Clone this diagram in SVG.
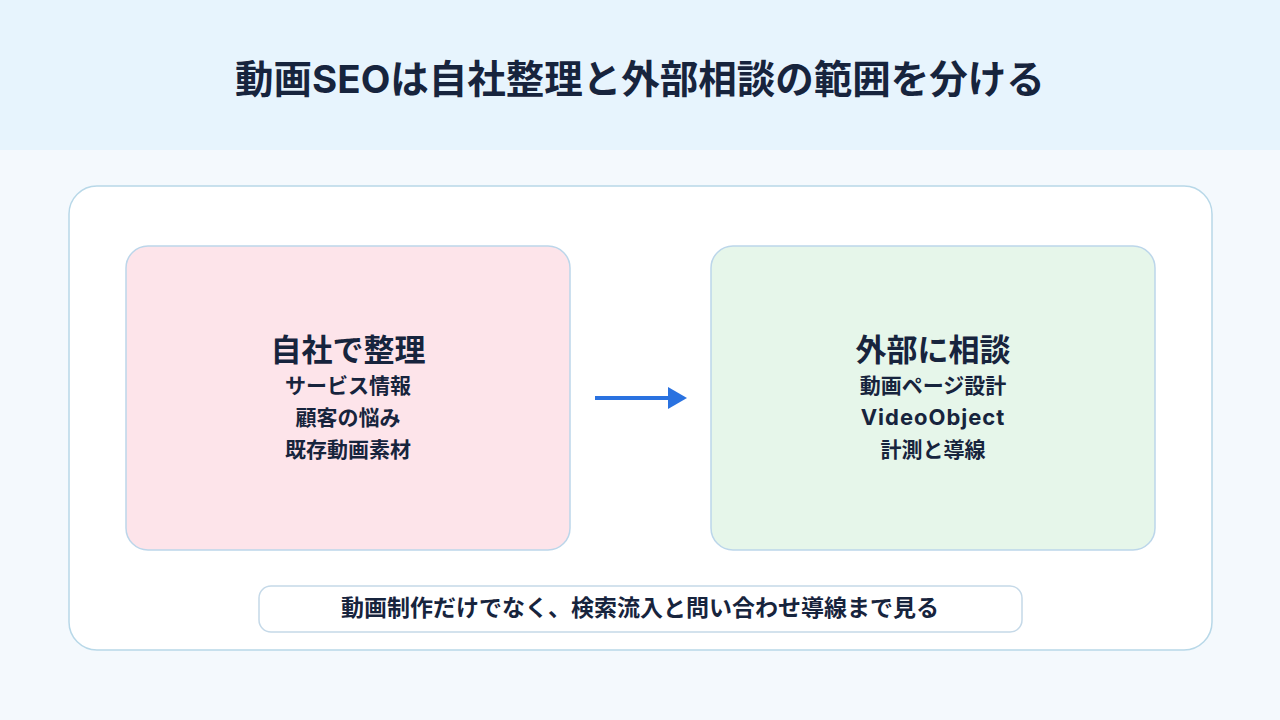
<svg xmlns="http://www.w3.org/2000/svg" width="1280" height="720" viewBox="0 0 1280 720">
<defs>
<style>
.t{font-family:"Inter","Noto Sans CJK JP",sans-serif;font-weight:700;fill:#17243d;text-anchor:middle}
.box{stroke:#bcd6ea;stroke-width:1.5}
</style>
<marker id="ah" markerWidth="19" markerHeight="22" refX="0" refY="11" orient="auto" markerUnits="userSpaceOnUse" viewBox="0 0 19 22">
<path d="M0,0 L19,11 L0,22 Z" fill="#2a72e0"/>
</marker>
</defs>
<rect x="0" y="0" width="1280" height="720" fill="#f4f9fd"/>
<rect x="0" y="0" width="1280" height="150" fill="#e7f4fd"/>
<text class="t" x="640" y="93" font-size="38.5">動画SEOは自社整理と外部相談の範囲を分ける</text>
<g id="panel">
<rect x="69" y="186" width="1143" height="464" rx="28" fill="#ffffff" stroke="#b8d8e8" stroke-width="1.5"/>
</g>
<g id="self">
<rect class="box" x="126" y="246" width="444" height="304" rx="22" fill="#fde4ea"/>
<text class="t" x="348" y="361" font-size="31">自社で整理</text>
<text class="t" x="348" y="393" font-size="21">サービス情報</text>
<text class="t" x="348" y="425" font-size="21">顧客の悩み</text>
<text class="t" x="348" y="457" font-size="21">既存動画素材</text>
</g>
<g id="external">
<rect class="box" x="711" y="246" width="444" height="304" rx="22" fill="#e6f6ea"/>
<text class="t" x="933" y="361" font-size="31">外部に相談</text>
<text class="t" x="933" y="393" font-size="21">動画ページ設計</text>
<text class="t" x="933" y="425" font-size="22" letter-spacing="1">VideoObject</text>
<text class="t" x="933" y="457" font-size="21">計測と導線</text>
</g>
<g id="connectors">
<line x1="595" y1="398" x2="668" y2="398" stroke="#2a72e0" stroke-width="4" marker-end="url(#ah)"/>
</g>
<g id="note">
<rect x="259" y="586" width="763" height="46" rx="12" fill="#ffffff" stroke="#c5d9e8" stroke-width="1.5"/>
<text class="t" x="640" y="616" font-size="23">動画制作だけでなく、検索流入と問い合わせ導線まで見る</text>
</g>
</svg>
